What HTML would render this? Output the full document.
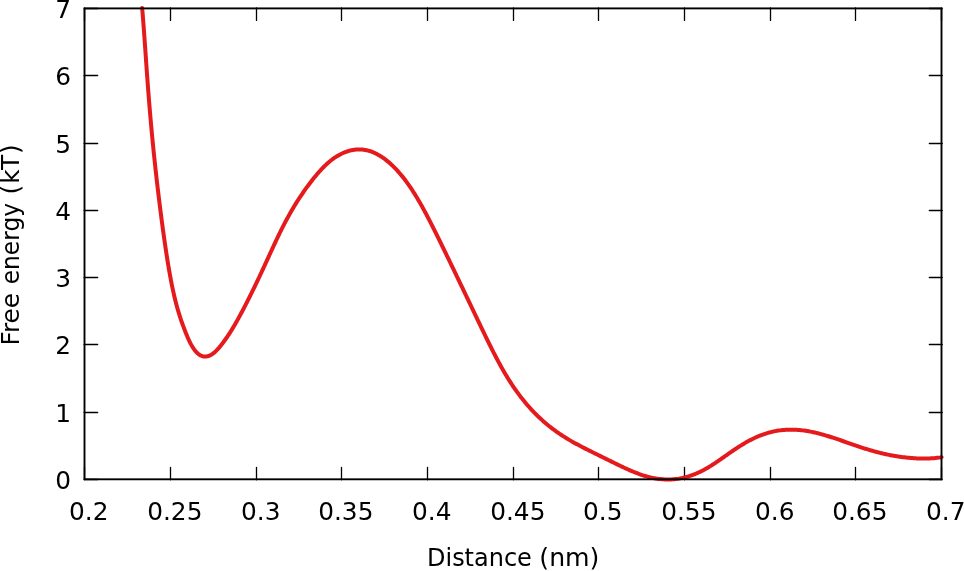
<!DOCTYPE html>
<html><head><meta charset="utf-8"><title>Free energy</title>
<style>
html,body{margin:0;padding:0;background:#fff;overflow:hidden}
svg{display:block}
text{font-family:"DejaVu Sans","Liberation Sans",sans-serif;font-size:24px;fill:#000}
</style></head><body>
<svg width="964" height="571" viewBox="0 0 964 571">
<rect width="964" height="571" fill="#fff"/>
<path d="M84.5,479.85 V467.35 M84.5,7.9 V20.45 M170.5,479.85 V467.35 M170.5,7.9 V20.45 M256.5,479.85 V467.35 M256.5,7.9 V20.45 M341.5,479.85 V467.35 M341.5,7.9 V20.45 M427.5,479.85 V467.35 M427.5,7.9 V20.45 M513.5,479.85 V467.35 M513.5,7.9 V20.45 M598.5,479.85 V467.35 M598.5,7.9 V20.45 M684.5,479.85 V467.35 M684.5,7.9 V20.45 M770.5,479.85 V467.35 M770.5,7.9 V20.45 M855.5,479.85 V467.35 M855.5,7.9 V20.45 M941.5,479.85 V467.35 M941.5,7.9 V20.45 M84.15,479.5 H97.65 M942.2,479.5 H929.35 M84.15,412.5 H97.65 M942.2,412.5 H929.35 M84.15,344.5 H97.65 M942.2,344.5 H929.35 M84.15,277.5 H97.65 M942.2,277.5 H929.35 M84.15,210.5 H97.65 M942.2,210.5 H929.35 M84.15,143.5 H97.65 M942.2,143.5 H929.35 M84.15,75.5 H97.65 M942.2,75.5 H929.35 M84.15,8.5 H97.65 M942.2,8.5 H929.35 " stroke="#000" stroke-width="1.3" stroke-linecap="round" fill="none"/>
<path d="M142.16,8.06 L142.29,9.59 L142.42,11.13 L142.55,12.66 L142.67,14.20 L142.80,15.73 L142.92,17.27 L143.04,18.81 L143.16,20.35 L143.28,21.89 L143.40,23.43 L143.52,24.97 L143.64,26.52 L143.75,28.06 L143.86,29.60 L143.98,31.15 L144.09,32.70 L144.20,34.24 L144.31,35.79 L144.42,37.34 L144.53,38.88 L144.64,40.43 L144.75,41.98 L144.86,43.53 L144.97,45.08 L145.08,46.63 L145.19,48.18 L145.30,49.73 L145.40,51.28 L145.51,52.83 L145.62,54.38 L145.73,55.93 L145.84,57.48 L145.95,59.03 L146.05,60.58 L146.16,62.13 L146.27,63.68 L146.38,65.23 L146.49,66.79 L146.60,68.34 L146.71,69.89 L146.82,71.44 L146.93,72.99 L147.05,74.54 L147.16,76.09 L147.27,77.64 L147.39,79.19 L147.50,80.74 L147.61,82.28 L147.73,83.83 L147.85,85.38 L147.96,86.93 L148.08,88.48 L148.20,90.03 L148.32,91.57 L148.44,93.12 L148.56,94.67 L148.68,96.22 L148.80,97.76 L148.93,99.31 L149.05,100.86 L149.17,102.40 L149.30,103.95 L149.43,105.49 L149.56,107.04 L149.68,108.58 L149.81,110.13 L149.94,111.67 L150.08,113.22 L150.21,114.76 L150.34,116.30 L150.48,117.85 L150.61,119.39 L150.75,120.93 L150.88,122.48 L151.02,124.02 L151.16,125.56 L151.30,127.10 L151.44,128.64 L151.59,130.18 L151.73,131.73 L151.88,133.27 L152.02,134.81 L152.17,136.35 L152.31,137.89 L152.46,139.43 L152.61,140.97 L152.76,142.51 L152.92,144.05 L153.07,145.59 L153.22,147.13 L153.38,148.67 L153.53,150.20 L153.69,151.74 L153.85,153.28 L154.01,154.82 L154.17,156.36 L154.33,157.90 L154.49,159.44 L154.65,160.97 L154.82,162.51 L154.98,164.05 L155.15,165.59 L155.31,167.13 L155.48,168.67 L155.65,170.20 L155.82,171.74 L155.99,173.28 L156.17,174.82 L156.34,176.35 L156.51,177.89 L156.69,179.43 L156.86,180.97 L157.04,182.51 L157.22,184.04 L157.40,185.58 L157.58,187.12 L157.76,188.66 L157.94,190.20 L158.13,191.73 L158.31,193.27 L158.49,194.81 L158.68,196.35 L158.87,197.89 L159.06,199.42 L159.25,200.96 L159.44,202.50 L159.63,204.04 L159.82,205.58 L160.01,207.12 L160.21,208.65 L160.40,210.19 L160.60,211.73 L160.80,213.27 L160.99,214.81 L161.19,216.35 L161.39,217.88 L161.60,219.42 L161.80,220.96 L162.00,222.50 L162.21,224.04 L162.41,225.58 L162.62,227.11 L162.83,228.65 L163.04,230.19 L163.25,231.73 L163.46,233.27 L163.68,234.81 L163.89,236.34 L164.11,237.88 L164.33,239.42 L164.55,240.96 L164.77,242.49 L164.99,244.03 L165.21,245.57 L165.44,247.10 L165.67,248.64 L165.90,250.17 L166.13,251.71 L166.36,253.24 L166.60,254.78 L166.84,256.31 L167.08,257.85 L167.32,259.38 L167.56,260.91 L167.81,262.44 L168.06,263.98 L168.32,265.51 L168.57,267.04 L168.83,268.57 L169.10,270.10 L169.36,271.62 L169.63,273.15 L169.91,274.68 L170.18,276.20 L170.47,277.73 L170.75,279.25 L171.04,280.77 L171.34,282.30 L171.64,283.82 L171.95,285.34 L172.26,286.85 L172.57,288.37 L172.90,289.89 L173.23,291.40 L173.56,292.91 L173.90,294.42 L174.25,295.93 L174.61,297.44 L174.97,298.95 L175.34,300.45 L175.72,301.95 L176.11,303.45 L176.51,304.95 L176.91,306.45 L177.33,307.94 L177.75,309.43 L178.18,310.92 L178.63,312.41 L179.08,313.90 L179.55,315.38 L180.02,316.86 L180.51,318.33 L181.00,319.81 L181.50,321.28 L182.01,322.74 L182.54,324.21 L183.07,325.66 L183.60,327.12 L184.15,328.57 L184.70,330.02 L185.26,331.46 L185.83,332.89 L186.40,334.33 L186.99,335.75 L187.59,337.17 L188.21,338.58 L188.85,339.99 L189.51,341.39 L190.20,342.78 L190.91,344.15 L191.67,345.52 L192.47,346.86 L193.31,348.18 L194.21,349.48 L195.17,350.73 L196.19,351.94 L197.28,353.07 L198.45,354.09 L199.70,354.98 L201.02,355.71 L202.42,356.23 L203.89,356.52 L205.40,356.58 L206.92,356.41 L208.42,356.04 L209.88,355.48 L211.26,354.76 L212.57,353.91 L213.81,352.96 L214.99,351.93 L216.11,350.84 L217.20,349.71 L218.25,348.55 L219.28,347.37 L220.28,346.17 L221.26,344.97 L222.22,343.75 L223.17,342.52 L224.09,341.28 L225.00,340.03 L225.90,338.77 L226.78,337.50 L227.65,336.23 L228.51,334.94 L229.35,333.65 L230.18,332.35 L231.01,331.04 L231.82,329.72 L232.63,328.40 L233.42,327.08 L234.21,325.74 L234.99,324.41 L235.76,323.06 L236.53,321.72 L237.29,320.36 L238.05,319.01 L238.80,317.65 L239.54,316.29 L240.28,314.92 L241.02,313.56 L241.75,312.19 L242.47,310.81 L243.20,309.44 L243.91,308.06 L244.63,306.68 L245.34,305.30 L246.05,303.92 L246.76,302.54 L247.46,301.15 L248.16,299.77 L248.86,298.38 L249.56,297.00 L250.25,295.61 L250.94,294.22 L251.63,292.83 L252.31,291.44 L252.99,290.04 L253.67,288.65 L254.35,287.26 L255.03,285.86 L255.70,284.47 L256.37,283.07 L257.04,281.67 L257.71,280.28 L258.37,278.88 L259.03,277.48 L259.70,276.08 L260.35,274.68 L261.01,273.27 L261.67,271.87 L262.32,270.46 L262.97,269.06 L263.62,267.65 L264.27,266.25 L264.92,264.84 L265.57,263.43 L266.22,262.02 L266.86,260.62 L267.51,259.21 L268.15,257.80 L268.80,256.39 L269.45,254.98 L270.09,253.57 L270.74,252.16 L271.39,250.75 L272.04,249.34 L272.69,247.93 L273.34,246.52 L273.99,245.12 L274.65,243.71 L275.31,242.30 L275.97,240.90 L276.63,239.50 L277.30,238.09 L277.97,236.69 L278.64,235.29 L279.32,233.90 L280.00,232.50 L280.69,231.11 L281.38,229.72 L282.07,228.33 L282.77,226.95 L283.48,225.56 L284.19,224.18 L284.91,222.81 L285.63,221.43 L286.36,220.06 L287.10,218.70 L287.84,217.33 L288.59,215.97 L289.34,214.62 L290.10,213.27 L290.87,211.92 L291.65,210.57 L292.43,209.23 L293.22,207.90 L294.02,206.57 L294.83,205.24 L295.64,203.92 L296.46,202.60 L297.29,201.29 L298.13,199.98 L298.98,198.68 L299.83,197.38 L300.69,196.09 L301.56,194.80 L302.43,193.52 L303.31,192.25 L304.20,190.97 L305.10,189.71 L306.00,188.45 L306.91,187.19 L307.83,185.94 L308.76,184.70 L309.69,183.46 L310.63,182.23 L311.58,181.01 L312.53,179.79 L313.50,178.58 L314.47,177.37 L315.45,176.18 L316.44,174.99 L317.44,173.82 L318.45,172.65 L319.47,171.49 L320.51,170.35 L321.55,169.22 L322.62,168.10 L323.70,166.99 L324.79,165.91 L325.90,164.84 L327.04,163.78 L328.19,162.75 L329.37,161.74 L330.57,160.76 L331.79,159.80 L333.04,158.86 L334.31,157.96 L335.61,157.09 L336.94,156.25 L338.29,155.44 L339.66,154.68 L341.06,153.96 L342.49,153.28 L343.93,152.64 L345.39,152.06 L346.88,151.52 L348.37,151.04 L349.88,150.62 L351.40,150.26 L352.93,149.96 L354.46,149.72 L356.00,149.55 L357.54,149.44 L359.07,149.40 L360.60,149.43 L362.12,149.53 L363.63,149.69 L365.14,149.92 L366.63,150.21 L368.11,150.57 L369.57,150.99 L371.02,151.47 L372.46,152.00 L373.88,152.59 L375.28,153.23 L376.66,153.91 L378.03,154.65 L379.37,155.42 L380.70,156.24 L382.01,157.09 L383.31,157.98 L384.58,158.90 L385.84,159.85 L387.07,160.83 L388.29,161.83 L389.49,162.86 L390.67,163.92 L391.83,164.99 L392.97,166.09 L394.10,167.20 L395.20,168.33 L396.29,169.47 L397.37,170.63 L398.42,171.81 L399.46,172.99 L400.48,174.19 L401.49,175.40 L402.48,176.61 L403.45,177.84 L404.41,179.08 L405.36,180.32 L406.29,181.57 L407.21,182.83 L408.12,184.09 L409.01,185.36 L409.89,186.63 L410.76,187.92 L411.61,189.20 L412.46,190.49 L413.30,191.79 L414.12,193.09 L414.94,194.39 L415.75,195.70 L416.55,197.01 L417.34,198.33 L418.12,199.65 L418.90,200.97 L419.67,202.30 L420.43,203.63 L421.19,204.97 L421.94,206.30 L422.68,207.64 L423.42,208.98 L424.15,210.33 L424.88,211.68 L425.61,213.03 L426.33,214.38 L427.04,215.74 L427.76,217.10 L428.47,218.46 L429.17,219.82 L429.88,221.18 L430.58,222.55 L431.28,223.92 L431.97,225.29 L432.67,226.66 L433.36,228.03 L434.05,229.41 L434.73,230.78 L435.42,232.16 L436.11,233.54 L436.79,234.92 L437.47,236.30 L438.15,237.69 L438.83,239.07 L439.51,240.46 L440.19,241.84 L440.87,243.23 L441.55,244.62 L442.22,246.01 L442.90,247.40 L443.57,248.79 L444.25,250.18 L444.93,251.58 L445.60,252.97 L446.27,254.36 L446.95,255.76 L447.62,257.16 L448.30,258.55 L448.97,259.95 L449.65,261.35 L450.32,262.75 L450.99,264.14 L451.67,265.54 L452.34,266.94 L453.01,268.34 L453.69,269.74 L454.36,271.15 L455.04,272.55 L455.71,273.95 L456.38,275.35 L457.06,276.75 L457.73,278.16 L458.40,279.56 L459.07,280.96 L459.75,282.37 L460.42,283.77 L461.09,285.17 L461.77,286.58 L462.44,287.98 L463.11,289.39 L463.78,290.79 L464.45,292.20 L465.13,293.60 L465.80,295.01 L466.47,296.41 L467.14,297.82 L467.81,299.22 L468.48,300.63 L469.15,302.03 L469.82,303.44 L470.49,304.84 L471.16,306.24 L471.83,307.65 L472.50,309.05 L473.17,310.46 L473.84,311.86 L474.51,313.26 L475.17,314.67 L475.84,316.07 L476.51,317.47 L477.18,318.87 L477.85,320.28 L478.52,321.68 L479.19,323.08 L479.86,324.48 L480.53,325.88 L481.20,327.28 L481.87,328.67 L482.54,330.07 L483.21,331.47 L483.89,332.86 L484.56,334.26 L485.24,335.65 L485.91,337.04 L486.59,338.44 L487.27,339.83 L487.95,341.22 L488.63,342.60 L489.32,343.99 L490.01,345.37 L490.70,346.76 L491.39,348.14 L492.08,349.52 L492.78,350.90 L493.48,352.28 L494.19,353.65 L494.89,355.02 L495.61,356.39 L496.32,357.76 L497.04,359.13 L497.77,360.49 L498.50,361.85 L499.23,363.21 L499.97,364.57 L500.72,365.92 L501.47,367.27 L502.23,368.62 L502.99,369.96 L503.76,371.30 L504.54,372.64 L505.33,373.97 L506.12,375.30 L506.92,376.62 L507.73,377.95 L508.54,379.26 L509.37,380.58 L510.20,381.88 L511.04,383.19 L511.89,384.48 L512.75,385.78 L513.62,387.07 L514.50,388.35 L515.39,389.63 L516.28,390.90 L517.19,392.16 L518.11,393.42 L519.04,394.67 L519.97,395.92 L520.92,397.16 L521.88,398.39 L522.85,399.61 L523.83,400.83 L524.82,402.04 L525.82,403.24 L526.84,404.43 L527.86,405.62 L528.89,406.79 L529.94,407.96 L530.99,409.12 L532.06,410.27 L533.14,411.40 L534.23,412.53 L535.32,413.65 L536.43,414.76 L537.55,415.85 L538.68,416.94 L539.82,418.01 L540.96,419.08 L542.12,420.13 L543.29,421.17 L544.46,422.19 L545.65,423.21 L546.84,424.21 L548.05,425.20 L549.26,426.18 L550.48,427.14 L551.71,428.10 L552.94,429.04 L554.19,429.96 L555.44,430.88 L556.70,431.78 L557.96,432.67 L559.23,433.54 L560.51,434.41 L561.80,435.26 L563.09,436.10 L564.39,436.92 L565.69,437.74 L567.00,438.54 L568.31,439.34 L569.63,440.12 L570.95,440.89 L572.28,441.65 L573.61,442.40 L574.94,443.15 L576.28,443.88 L577.63,444.61 L578.97,445.33 L580.32,446.04 L581.68,446.75 L583.03,447.45 L584.39,448.15 L585.76,448.84 L587.12,449.53 L588.49,450.22 L589.85,450.90 L591.23,451.58 L592.60,452.26 L593.97,452.94 L595.35,453.62 L596.73,454.30 L598.11,454.98 L599.49,455.66 L600.88,456.35 L602.26,457.03 L603.65,457.71 L605.04,458.40 L606.43,459.08 L607.82,459.77 L609.22,460.46 L610.62,461.15 L612.02,461.84 L613.42,462.53 L614.82,463.22 L616.23,463.91 L617.64,464.60 L619.05,465.28 L620.46,465.96 L621.88,466.64 L623.30,467.31 L624.73,467.97 L626.16,468.63 L627.59,469.28 L629.03,469.92 L630.47,470.55 L631.92,471.17 L633.37,471.77 L634.83,472.36 L636.29,472.94 L637.76,473.49 L639.23,474.03 L640.71,474.56 L642.19,475.06 L643.68,475.54 L645.17,475.99 L646.67,476.43 L648.17,476.84 L649.68,477.22 L651.20,477.58 L652.71,477.91 L654.24,478.21 L655.76,478.48 L657.29,478.72 L658.82,478.93 L660.36,479.10 L661.90,479.25 L663.44,479.36 L664.98,479.44 L666.52,479.49 L668.06,479.50 L669.60,479.48 L671.13,479.43 L672.67,479.34 L674.20,479.22 L675.73,479.06 L677.25,478.87 L678.77,478.65 L680.28,478.39 L681.79,478.10 L683.29,477.78 L684.78,477.42 L686.26,477.04 L687.73,476.62 L689.19,476.18 L690.64,475.70 L692.08,475.20 L693.51,474.67 L694.93,474.11 L696.34,473.52 L697.74,472.91 L699.13,472.27 L700.51,471.61 L701.88,470.93 L703.24,470.22 L704.59,469.49 L705.93,468.75 L707.26,467.98 L708.59,467.20 L709.90,466.40 L711.22,465.59 L712.52,464.76 L713.82,463.92 L715.12,463.06 L716.41,462.20 L717.70,461.32 L718.99,460.44 L720.27,459.55 L721.56,458.65 L722.84,457.75 L724.13,456.85 L725.41,455.94 L726.70,455.03 L727.99,454.13 L729.29,453.22 L730.59,452.32 L731.89,451.42 L733.20,450.52 L734.51,449.63 L735.83,448.75 L737.15,447.88 L738.48,447.02 L739.81,446.17 L741.16,445.33 L742.51,444.50 L743.86,443.69 L745.22,442.89 L746.59,442.11 L747.97,441.34 L749.35,440.59 L750.75,439.87 L752.14,439.16 L753.55,438.47 L754.96,437.81 L756.38,437.16 L757.80,436.54 L759.23,435.95 L760.67,435.37 L762.11,434.83 L763.56,434.30 L765.02,433.81 L766.48,433.34 L767.94,432.90 L769.41,432.49 L770.89,432.10 L772.37,431.74 L773.85,431.41 L775.34,431.11 L776.83,430.83 L778.33,430.59 L779.83,430.37 L781.33,430.18 L782.84,430.02 L784.35,429.89 L785.86,429.79 L787.37,429.71 L788.89,429.66 L790.41,429.64 L791.93,429.64 L793.45,429.67 L794.97,429.73 L796.50,429.81 L798.02,429.92 L799.55,430.05 L801.07,430.21 L802.60,430.38 L804.13,430.58 L805.65,430.81 L807.18,431.05 L808.70,431.31 L810.23,431.60 L811.75,431.90 L813.28,432.22 L814.80,432.56 L816.32,432.92 L817.84,433.29 L819.36,433.68 L820.88,434.08 L822.39,434.49 L823.91,434.92 L825.42,435.36 L826.93,435.81 L828.44,436.27 L829.94,436.74 L831.45,437.22 L832.95,437.71 L834.45,438.20 L835.95,438.70 L837.44,439.21 L838.93,439.71 L840.42,440.23 L841.91,440.74 L843.40,441.26 L844.88,441.78 L846.36,442.29 L847.84,442.81 L849.32,443.33 L850.79,443.84 L852.27,444.36 L853.74,444.87 L855.21,445.37 L856.68,445.87 L858.15,446.37 L859.62,446.86 L861.08,447.35 L862.55,447.82 L864.01,448.29 L865.48,448.76 L866.94,449.21 L868.41,449.66 L869.88,450.10 L871.34,450.53 L872.81,450.95 L874.28,451.36 L875.75,451.76 L877.23,452.15 L878.71,452.53 L880.19,452.91 L881.67,453.27 L883.16,453.62 L884.65,453.96 L886.14,454.29 L887.64,454.60 L889.14,454.91 L890.65,455.21 L892.16,455.49 L893.68,455.76 L895.20,456.03 L896.72,456.28 L898.26,456.51 L899.79,456.74 L901.33,456.96 L902.88,457.16 L904.43,457.35 L905.99,457.52 L907.54,457.69 L909.11,457.84 L910.68,457.98 L912.25,458.10 L913.82,458.21 L915.39,458.31 L916.97,458.39 L918.55,458.45 L920.12,458.50 L921.70,458.54 L923.27,458.55 L924.85,458.55 L926.41,458.53 L927.98,458.49 L929.53,458.44 L931.08,458.36 L932.62,458.26 L934.15,458.14 L935.67,457.99 L937.17,457.82 L938.66,457.63 L940.13,457.41 L941.58,457.16" fill="none" stroke="#e41a1c" stroke-width="4" stroke-linejoin="round" stroke-linecap="round"/>
<rect x="84.5" y="8.4" width="857.0" height="470.9" fill="none" stroke="#000" stroke-width="1.9"/>
<text transform="translate(88.8,520) scale(1.035,1.012)" text-anchor="middle">0.2</text>
<text transform="translate(174.8,520) scale(1.035,1.012)" text-anchor="middle">0.25</text>
<text transform="translate(260.8,520) scale(1.035,1.012)" text-anchor="middle">0.3</text>
<text transform="translate(345.8,520) scale(1.035,1.012)" text-anchor="middle">0.35</text>
<text transform="translate(431.8,520) scale(1.035,1.012)" text-anchor="middle">0.4</text>
<text transform="translate(517.8,520) scale(1.035,1.012)" text-anchor="middle">0.45</text>
<text transform="translate(602.8,520) scale(1.035,1.012)" text-anchor="middle">0.5</text>
<text transform="translate(688.8,520) scale(1.035,1.012)" text-anchor="middle">0.55</text>
<text transform="translate(774.8,520) scale(1.035,1.012)" text-anchor="middle">0.6</text>
<text transform="translate(859.8,520) scale(1.035,1.012)" text-anchor="middle">0.65</text>
<text transform="translate(945.8,520) scale(1.035,1.012)" text-anchor="middle">0.7</text>
<text transform="translate(71.1,489.0) scale(1.035,1.012)" text-anchor="end">0</text>
<text transform="translate(71.1,422.0) scale(1.035,1.012)" text-anchor="end">1</text>
<text transform="translate(71.1,354.0) scale(1.035,1.012)" text-anchor="end">2</text>
<text transform="translate(71.1,287.0) scale(1.035,1.012)" text-anchor="end">3</text>
<text transform="translate(71.1,220.0) scale(1.035,1.012)" text-anchor="end">4</text>
<text transform="translate(71.1,153.0) scale(1.035,1.012)" text-anchor="end">5</text>
<text transform="translate(71.1,85.0) scale(1.035,1.012)" text-anchor="end">6</text>
<text transform="translate(71.1,18.0) scale(1.035,1.012)" text-anchor="end">7</text>

<text transform="translate(427.0,566) scale(1,1.012)">Distance</text>
<text transform="translate(539.3,566) scale(1.05,1.012)">(nm)</text>
<text transform="translate(18.5,345.5) rotate(-90) scale(1.03,1.012)">Free</text>
<text transform="translate(18.5,284.3) rotate(-90) scale(0.973,1.012)">energy</text>
<text transform="translate(18.5,194.6) rotate(-90) scale(1.03,1.012)" dx="0 1.1 -0.46 0.9">(kT)</text>
</svg>
</body></html>
